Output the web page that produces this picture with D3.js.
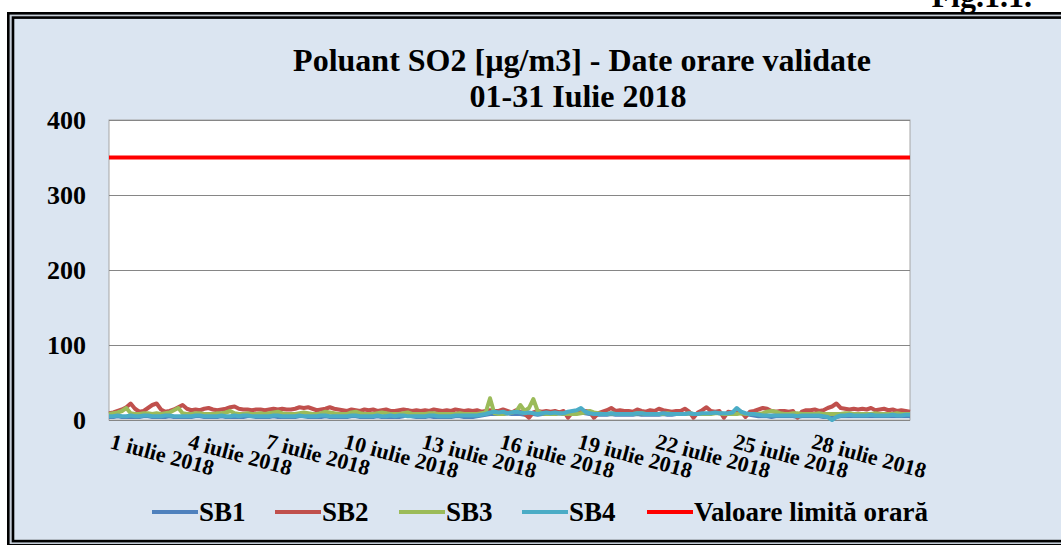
<!DOCTYPE html>
<html>
<head>
<meta charset="utf-8">
<script src="https://cdn.jsdelivr.net/npm/d3@7"></script>
<style>
  body { margin: 0; background: #fff; }
  svg { display: block; }
  svg text { font-family: "Liberation Serif", "Times New Roman", Times, serif; font-weight: bold; }
</style>
</head>
<body>
<div id="chart"></div>
<script>
// Values, one sample every 4 hours (00,04,08,12,16,20), 1-31 iulie 2018
const seriesNames = ["SB1", "SB2", "SB3", "SB4"];
const limitName = "Valoare limită orară";
const limitValue = 350;
const yTicks = [0, 100, 200, 300, 400];
const xTickDays = [1, 4, 7, 10, 13, 16, 19, 22, 25, 28];
const xTickLabels = ["1 iulie 2018", "4 iulie 2018", "7 iulie 2018", "10 iulie 2018", "13 iulie 2018",
  "16 iulie 2018", "19 iulie 2018", "22 iulie 2018", "25 iulie 2018", "28 iulie 2018"];

const sb1 = [
  4,4,5,4,4,4, 4,4,5,5,4,4, 4,4,5,4,4,4, 4,4,5,5,4,4, 4,4,5,4,4,4, 4,4,5,5,4,4,
  4,4,5,4,4,4, 4,4,5,5,4,4, 4,4,5,4,4,4, 4,4,5,5,4,4, 4,4,5,4,4,4, 4,4,5,13,5,4,
  4,4,5,4,4,4, 4,4,5,5,4,4, 4,5,6,7,8,8, 8,8,9,8,8,8, 7,8,8,7,8,8, 8,8,9,8,8,9,
  9,10,9,8,7,7, 7,7,8,7,7,7, 7,7,8,7,7,7, 7,7,8,7,7,8, 8,8,9,8,8,8, 8,9,10,9,8,8,
  9,10,9,8,7,6, 5,5,5,4,5,5, 5,5,5,4,5,5, 5,5,5,4,4,3, 4,5,5,5,5,5, 5,5,5,5,5,5,
  5,5,5,5,5,5
];
const sb2 = [
  9,10,12,14,17,22, 15,11,12,16,20,22, 14,11,12,14,17,20, 15,13,14,13,15,16,
  14,13,14,15,17,18, 15,14,14,13,14,14, 13,14,15,14,15,14, 14,15,17,16,17,15,
  13,14,15,17,15,14, 13,12,14,13,12,14, 13,14,12,13,14,12, 12,13,14,13,12,13,
  12,13,12,14,13,12, 13,12,14,13,12,13, 12,13,11,12,13,12, 12,14,12,10,13,11,
  8,3,10,12,11,12, 11,12,10,12,3,10, 11,10,12,11,3,9, 11,13,16,12,13,12,
  12,11,14,12,11,13, 12,15,13,12,11,12, 12,15,11,3,10,13, 17,12,11,12,3,11,
  10,12,11,4,11,12, 14,16,15,12,11,12, 12,11,12,3,11,13, 13,14,12,13,16,18,
  22,16,15,14,15,14, 15,14,16,13,14,15, 13,14,12,13,12,11
];
const sb3 = [
  8,9,10,12,16,9, 8,8,9,9,8,9, 8,9,10,13,16,9, 8,8,9,9,8,8, 8,9,9,10,12,9,
  8,8,9,8,8,9, 8,9,10,11,9,8, 8,8,9,10,9,8, 8,9,11,10,9,8, 8,8,10,11,9,8,
  8,8,9,10,9,8, 8,8,9,10,8,8, 8,8,9,9,8,8, 8,8,8,9,8,8, 8,8,9,10,29,9,
  8,8,9,10,11,20, 12,16,28,12,9,8, 8,8,9,8,8,8, 8,9,10,12,10,9, 8,8,9,8,8,8,
  8,8,9,9,8,8, 8,8,8,9,8,8, 8,8,9,8,8,8, 8,8,9,9,8,8, 8,8,9,8,8,8,
  8,9,11,12,11,9, 8,8,9,9,8,8, 8,8,9,8,8,8, 8,8,9,9,8,8, 8,8,8,9,8,8,
  8,8,9,8,8,8
];
const sb4 = [
  5,5,6,5,5,6, 5,5,6,6,5,5, 5,6,6,5,5,5, 5,5,6,6,5,5, 5,5,6,5,5,6, 5,6,6,5,5,5,
  5,5,6,6,5,5, 5,5,6,5,5,5, 5,6,6,5,5,5, 5,5,6,6,5,5, 5,5,6,5,5,6, 5,6,6,5,5,5,
  5,5,6,6,5,5, 5,5,6,6,6,6, 6,6,7,8,10,11, 10,11,9,10,11,10, 9,10,9,8,9,10,
  9,10,9,9,11,12, 13,16,11,9,8,8, 8,8,9,8,8,8, 8,8,9,9,8,8, 8,8,9,8,8,8,
  8,8,9,8,8,9, 9,9,10,9,9,9, 10,16,11,9,8,8, 7,6,6,6,6,6, 6,6,6,5,6,6,
  6,6,6,5,4,0, 4,6,6,7,6,6, 6,6,7,6,6,6, 6,7,6,6,7,7
];

const colors = ["#4F81BD", "#C0504D", "#9BBB59", "#4BACC6"];
const limitColor = "#FF0000";
const serif = "Liberation Serif, Times New Roman, serif";

function drawChart() {
  const width = 1061,
    height = 545;
  const plot = { left: 109, top: 120, right: 910, bottom: 420 };

  const svg = d3
    .select("#chart")
    .append("svg")
    .attr("width", width)
    .attr("height", height)
    .attr("font-family", serif)
    .attr("font-weight", "bold");

  // Figure caption, mostly cut off at the top edge
  svg.append("text")
    .attr("x", 1032)
    .attr("y", 7)
    .attr("text-anchor", "end")
    .attr("font-size", 32)
    .text("Fig.1.1.");

  // Double frame
  svg.append("rect")
    .attr("x", 8.3).attr("y", 13.3)
    .attr("width", 1100).attr("height", 532)
    .attr("fill", "#C4CCD6")
    .attr("stroke", "#000").attr("stroke-width", 2.6);
  svg.append("rect")
    .attr("x", 13).attr("y", 17.6)
    .attr("width", 1100).attr("height", 523.5)
    .attr("fill", "#DBE5F1")
    .attr("stroke", "#000").attr("stroke-width", 2.6);

  // Title
  const title = svg.append("text")
    .attr("text-anchor", "middle")
    .attr("font-size", 32);
  title.append("tspan").attr("x", 582).attr("y", 71).text("Poluant SO2 [µg/m3] - Date orare validate");
  title.append("tspan").attr("x", 578).attr("y", 107).text("01-31 Iulie 2018");

  const times = d3.range(sb1.length).map((i) => new Date(2018, 6, 1, i * 4));
  const x = d3
    .scaleTime()
    .domain([times[0], times[times.length - 1]])
    .range([plot.left, plot.right]);
  const y = d3.scaleLinear().domain([0, 400]).range([plot.bottom, plot.top]);

  svg.append("rect")
    .attr("x", plot.left).attr("y", plot.top)
    .attr("width", plot.right - plot.left).attr("height", plot.bottom - plot.top)
    .attr("fill", "#fff")
    .attr("stroke", "#A6A6A6");

  // Gridlines + y labels
  const yAxis = svg.append("g")
    .attr("transform", `translate(${plot.left},0)`)
    .call(
      d3.axisLeft(y)
        .tickValues(yTicks)
        .tickSize(-(plot.right - plot.left))
        .tickPadding(23)
    )
    .attr("font-family", serif)
    .attr("font-size", 26);
  yAxis.select(".domain").remove();
  yAxis.selectAll(".tick line").attr("stroke", "#868686");
  yAxis.selectAll(".tick text").attr("fill", "#000");

  // Series
  const line = d3
    .line()
    .x((d, i) => x(times[i]))
    .y((d) => y(d));

  [sb1, sb2, sb3, sb4].forEach((values, k) => {
    svg.append("path")
      .datum(values)
      .attr("fill", "none")
      .attr("stroke", colors[k])
      .attr("stroke-width", 4)
      .attr("stroke-linejoin", "round")
      .attr("d", line);
  });

  // Hourly limit
  svg.append("path")
    .datum(times.map(() => limitValue))
    .attr("fill", "none")
    .attr("stroke", limitColor)
    .attr("stroke-width", 4)
    .attr("d", line);

  // X labels, slanted
  const xTicks = xTickDays.map((d) => new Date(2018, 6, d));
  svg.append("g")
    .attr("font-family", serif)
    .selectAll("text")
    .data(xTicks)
    .join("text")
    .attr("transform", (d) => `translate(${x(d)},448) rotate(15)`)
    .attr("font-size", 22)
    .text((d, i) => xTickLabels[i]);

  // Legend
  const legendItems = seriesNames
    .map((name, k) => ({ name, color: colors[k] }))
    .concat([{ name: limitName, color: limitColor }]);
  const legendX = [152, 275, 399, 522, 647];
  const legend = svg.append("g")
    .attr("font-family", serif)
    .selectAll("g")
    .data(legendItems)
    .join("g")
    .attr("transform", (d, i) => `translate(${legendX[i]},512)`);
  legend.append("line")
    .attr("x1", 0).attr("x2", 46)
    .attr("stroke", (d) => d.color)
    .attr("stroke-width", 4);
  legend.append("text")
    .attr("x", 47)
    .attr("y", 9)
    .attr("font-size", 27)
    .text((d) => d.name);
}

drawChart();
</script>
</body>
</html>
